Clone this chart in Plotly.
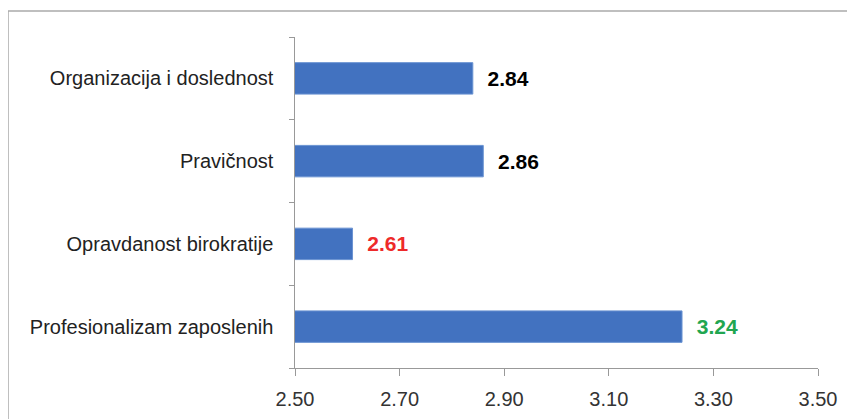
import plotly.graph_objects as go

categories = ["Profesionalizam zaposlenih", "Opravdanost birokratije", "Pravičnost", "Organizacija i doslednost"]
values = [3.24, 2.61, 2.86, 2.84]
label_colors = ["#21a650", "#ee2a2a", "#000000", "#000000"]
tick_vals = [2.5, 2.7, 2.9, 3.1, 3.3, 3.5]

# page body has an 8px margin
W, H = 847, 411
L, R, T, B = 287, 37, 29, 51
pw, ph = W - L - R, H - T - B

fig = go.Figure(go.Bar(
    y=categories, x=values, orientation="h",
    marker=dict(color="#4272c0", line=dict(color="#6a93d2", width=1)),
    width=0.38,
    text=[f"{v:.2f}" for v in values],
    texttemplate="  <b>%{text}</b>",
    textposition="outside",
    textfont=dict(family="Liberation Sans, Arial", size=21, color=label_colors),
    cliponaxis=False,
))

fig.update_layout(
    width=W, height=H,
    margin=dict(l=L, r=R, t=T, b=B, autoexpand=False),
    paper_bgcolor="white", plot_bgcolor="white",
    showlegend=False,
    font=dict(family="Liberation Sans, Arial", size=18, color="#333"),
    xaxis=dict(range=[2.5, 3.5], tickvals=tick_vals, tickformat=".2f",
               showgrid=False, zeroline=False, showline=True, linecolor="#999", linewidth=1,
               ticks="outside", ticklen=7, tickcolor="#999", ticklabelstandoff=6,
               tickfont=dict(size=20, color="#333")),
    yaxis=dict(showgrid=False, showline=True, linecolor="#999", linewidth=1,
               ticks="outside", ticklen=5, tickcolor="#999", tickson="boundaries",
               tickfont=dict(size=20, color="#222"), ticksuffix="   "),
    bargap=0.5,
    shapes=[dict(type="rect", xref="paper", yref="paper",
                 x0=(0 - L) / pw, x1=(W + 3 - L) / pw,
                 y0=(H - B - (H + 3)) / ph, y1=(H - B - 3) / ph,
                 line=dict(color="#aaa", width=1.5), fillcolor="rgba(0,0,0,0)", layer="below")],
)
fig.write_html("out.html")
